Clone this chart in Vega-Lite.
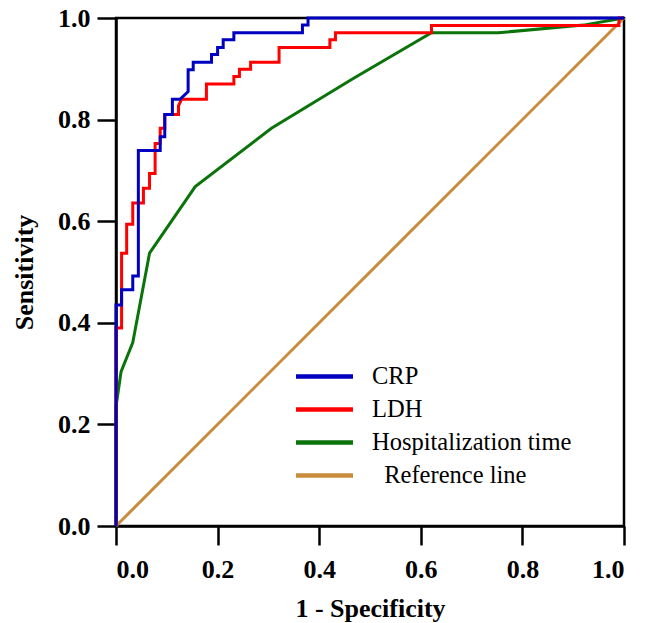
{
  "$schema": "https://vega.github.io/schema/vega-lite/v6.json",
  "width": 508,
  "height": 508,
  "autosize": {"type": "none"},
  "padding": {"left": 116, "top": 18, "right": 29, "bottom": 97},
  "background": "white",
  "config": {
    "view": {"stroke": "black", "strokeWidth": 2.5},
    "axis": {
      "grid": false,
      "labelFont": "Liberation Serif",
      "labelFontWeight": "bold",
      "labelFontSize": 26,
      "labelColor": "black",
      "titleFont": "Liberation Serif",
      "titleFontWeight": "bold",
      "titleFontSize": 26,
      "titleColor": "black",
      "domainColor": "black",
      "domainWidth": 2.5,
      "tickColor": "black",
      "tickWidth": 2.5,
      "tickSize": 19
    }
  },
  "data": {
    "values": [
      {"series": "Reference line", "ord": 0, "x": 0, "y": 0},
      {"series": "Reference line", "ord": 1, "x": 1, "y": 1},

      {"series": "Hospitalization time", "ord": 0, "x": 0, "y": 0},
      {"series": "Hospitalization time", "ord": 1, "x": 0, "y": 0.235},
      {"series": "Hospitalization time", "ord": 2, "x": 0.01, "y": 0.304},
      {"series": "Hospitalization time", "ord": 3, "x": 0.033, "y": 0.361},
      {"series": "Hospitalization time", "ord": 4, "x": 0.066, "y": 0.537},
      {"series": "Hospitalization time", "ord": 5, "x": 0.156, "y": 0.668},
      {"series": "Hospitalization time", "ord": 6, "x": 0.306, "y": 0.783},
      {"series": "Hospitalization time", "ord": 7, "x": 0.467, "y": 0.881},
      {"series": "Hospitalization time", "ord": 8, "x": 0.621, "y": 0.971},
      {"series": "Hospitalization time", "ord": 9, "x": 0.753, "y": 0.971},
      {"series": "Hospitalization time", "ord": 10, "x": 0.92, "y": 0.986},
      {"series": "Hospitalization time", "ord": 11, "x": 1, "y": 1},

      {"series": "LDH", "ord": 0, "x": 0, "y": 0},
      {"series": "LDH", "ord": 1, "x": 0, "y": 0.39},
      {"series": "LDH", "ord": 2, "x": 0.011, "y": 0.39},
      {"series": "LDH", "ord": 3, "x": 0.011, "y": 0.537},
      {"series": "LDH", "ord": 4, "x": 0.021, "y": 0.537},
      {"series": "LDH", "ord": 5, "x": 0.021, "y": 0.594},
      {"series": "LDH", "ord": 6, "x": 0.033, "y": 0.594},
      {"series": "LDH", "ord": 7, "x": 0.033, "y": 0.636},
      {"series": "LDH", "ord": 8, "x": 0.054, "y": 0.636},
      {"series": "LDH", "ord": 9, "x": 0.054, "y": 0.665},
      {"series": "LDH", "ord": 10, "x": 0.066, "y": 0.665},
      {"series": "LDH", "ord": 11, "x": 0.066, "y": 0.694},
      {"series": "LDH", "ord": 12, "x": 0.077, "y": 0.694},
      {"series": "LDH", "ord": 13, "x": 0.077, "y": 0.753},
      {"series": "LDH", "ord": 14, "x": 0.087, "y": 0.753},
      {"series": "LDH", "ord": 15, "x": 0.087, "y": 0.783},
      {"series": "LDH", "ord": 16, "x": 0.096, "y": 0.783},
      {"series": "LDH", "ord": 17, "x": 0.096, "y": 0.81},
      {"series": "LDH", "ord": 18, "x": 0.123, "y": 0.81},
      {"series": "LDH", "ord": 19, "x": 0.123, "y": 0.827},
      {"series": "LDH", "ord": 20, "x": 0.129, "y": 0.84},
      {"series": "LDH", "ord": 21, "x": 0.178, "y": 0.84},
      {"series": "LDH", "ord": 22, "x": 0.178, "y": 0.87},
      {"series": "LDH", "ord": 23, "x": 0.232, "y": 0.87},
      {"series": "LDH", "ord": 24, "x": 0.232, "y": 0.885},
      {"series": "LDH", "ord": 25, "x": 0.243, "y": 0.885},
      {"series": "LDH", "ord": 26, "x": 0.243, "y": 0.899},
      {"series": "LDH", "ord": 27, "x": 0.265, "y": 0.899},
      {"series": "LDH", "ord": 28, "x": 0.265, "y": 0.913},
      {"series": "LDH", "ord": 29, "x": 0.321, "y": 0.913},
      {"series": "LDH", "ord": 30, "x": 0.321, "y": 0.942},
      {"series": "LDH", "ord": 31, "x": 0.421, "y": 0.942},
      {"series": "LDH", "ord": 32, "x": 0.421, "y": 0.957},
      {"series": "LDH", "ord": 33, "x": 0.432, "y": 0.957},
      {"series": "LDH", "ord": 34, "x": 0.432, "y": 0.971},
      {"series": "LDH", "ord": 35, "x": 0.621, "y": 0.971},
      {"series": "LDH", "ord": 36, "x": 0.621, "y": 0.985},
      {"series": "LDH", "ord": 37, "x": 0.99, "y": 0.985},
      {"series": "LDH", "ord": 38, "x": 0.99, "y": 1},
      {"series": "LDH", "ord": 39, "x": 1, "y": 1},

      {"series": "CRP", "ord": 0, "x": 0, "y": 0},
      {"series": "CRP", "ord": 1, "x": 0, "y": 0.435},
      {"series": "CRP", "ord": 2, "x": 0.011, "y": 0.435},
      {"series": "CRP", "ord": 3, "x": 0.011, "y": 0.465},
      {"series": "CRP", "ord": 4, "x": 0.033, "y": 0.465},
      {"series": "CRP", "ord": 5, "x": 0.033, "y": 0.492},
      {"series": "CRP", "ord": 6, "x": 0.044, "y": 0.492},
      {"series": "CRP", "ord": 7, "x": 0.044, "y": 0.739},
      {"series": "CRP", "ord": 8, "x": 0.087, "y": 0.739},
      {"series": "CRP", "ord": 9, "x": 0.087, "y": 0.766},
      {"series": "CRP", "ord": 10, "x": 0.096, "y": 0.766},
      {"series": "CRP", "ord": 11, "x": 0.096, "y": 0.81},
      {"series": "CRP", "ord": 12, "x": 0.111, "y": 0.81},
      {"series": "CRP", "ord": 13, "x": 0.111, "y": 0.84},
      {"series": "CRP", "ord": 14, "x": 0.126, "y": 0.84},
      {"series": "CRP", "ord": 15, "x": 0.142, "y": 0.855},
      {"series": "CRP", "ord": 16, "x": 0.142, "y": 0.898},
      {"series": "CRP", "ord": 17, "x": 0.152, "y": 0.898},
      {"series": "CRP", "ord": 18, "x": 0.152, "y": 0.913},
      {"series": "CRP", "ord": 19, "x": 0.188, "y": 0.913},
      {"series": "CRP", "ord": 20, "x": 0.188, "y": 0.928},
      {"series": "CRP", "ord": 21, "x": 0.2, "y": 0.928},
      {"series": "CRP", "ord": 22, "x": 0.2, "y": 0.942},
      {"series": "CRP", "ord": 23, "x": 0.211, "y": 0.942},
      {"series": "CRP", "ord": 24, "x": 0.211, "y": 0.957},
      {"series": "CRP", "ord": 25, "x": 0.232, "y": 0.957},
      {"series": "CRP", "ord": 26, "x": 0.232, "y": 0.971},
      {"series": "CRP", "ord": 27, "x": 0.367, "y": 0.971},
      {"series": "CRP", "ord": 28, "x": 0.367, "y": 0.986},
      {"series": "CRP", "ord": 29, "x": 0.378, "y": 0.986},
      {"series": "CRP", "ord": 30, "x": 0.378, "y": 1},
      {"series": "CRP", "ord": 31, "x": 1, "y": 1}
    ]
  },
  "mark": {"type": "line", "strokeWidth": 3, "interpolate": "linear", "clip": false},
  "encoding": {
    "x": {
      "field": "x", "type": "quantitative",
      "scale": {"domain": [0, 1], "nice": false, "zero": false},
      "axis": {"values": [0, 0.2, 0.4, 0.6, 0.8, 1], "format": ".1f", "title": "1 - Specificity", "labelPadding": 11, "titlePadding": 13}
    },
    "y": {
      "field": "y", "type": "quantitative",
      "scale": {"domain": [0, 1], "nice": false, "zero": false},
      "axis": {"values": [0, 0.2, 0.4, 0.6, 0.8, 1], "format": ".1f", "title": "Sensitivity", "labelPadding": 7, "titlePadding": 20}
    },
    "color": {
      "field": "series", "type": "nominal",
      "scale": {
        "domain": ["CRP", "LDH", "Hospitalization time", "Reference line"],
        "range": ["#0000C0", "#FF0000", "#0A730A", "#C98B3C"]
      },
      "legend": {
        "title": null,
        "orient": "none",
        "legendX": 192,
        "legendY": 342,
        "symbolType": "M-2,0H2",
        "symbolSize": 812,
        "symbolStrokeWidth": 4.5,
        "symbolFillColor": "transparent",
        "labelFont": "Liberation Serif",
        "labelFontSize": 24.5,
        "labelColor": "black",
        "labelOffset": 31,
        "labelLimit": 0,
        "rowPadding": 5,
        "labelExpr": "datum.value == 'Reference line' ? '\u200b\u00a0\u00a0Reference line' : datum.label"
      }
    },
    "order": {"field": "ord", "type": "quantitative"}
  }
}
